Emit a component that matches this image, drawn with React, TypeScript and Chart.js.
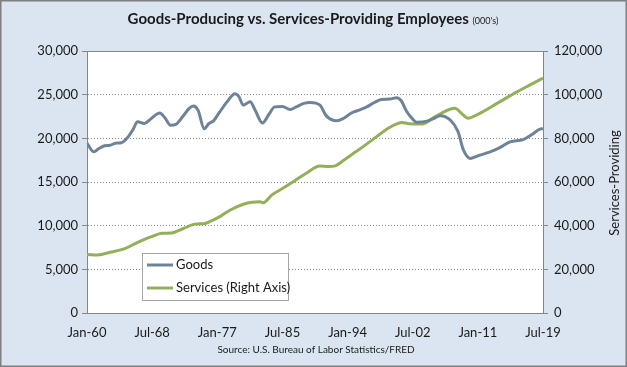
import React, { useEffect, useRef } from "react";
import { Chart, registerables } from "chart.js";

Chart.register(...registerables);

const goodsYears = [
  1960.0, 1960.9, 1961.5, 1962.3, 1963.0, 1963.7, 1964.5, 1965.3, 1966.0, 1966.6,
  1967.5, 1968.3, 1969.5, 1970.2, 1970.9, 1971.6, 1972.5, 1973.3, 1973.9, 1974.5,
  1975.3, 1975.9, 1976.5, 1977.3, 1978.3, 1979.3, 1979.8, 1980.4, 1981.3, 1981.9,
  1982.9, 1983.7, 1984.5, 1985.5, 1986.5, 1987.3, 1988.3, 1989.1, 1990.4, 1991.2,
  1992.6, 1993.5, 1994.5, 1995.4, 1996.5, 1997.5, 1998.4, 1999.5, 2000.4, 2001.0,
  2001.7, 2002.5, 2003.0, 2004.5, 2005.3, 2006.1, 2007.4, 2008.4, 2009.1, 2010.0,
  2011.0, 2012.6, 2013.8, 2015.2, 2016.9, 2018.0, 2019.1, 2019.5,
];
const goodsValues = [
  19450, 18450, 18800, 19150, 19200, 19450, 19500, 20100, 21000, 21900,
  21700, 22200, 22900, 22300, 21500, 21600, 22500, 23400, 23700, 23200,
  21100, 21700, 22000, 23000, 24200, 25100, 24800, 23800, 24200, 23300,
  21750, 22700, 23600, 23650, 23300, 23600, 24000, 24100, 23800, 22600,
  22000, 22300, 22900, 23200, 23600, 24100, 24450, 24500, 24650, 24300,
  23100, 22200, 21850, 22000, 22300, 22600, 22100, 20800, 18700, 17700,
  18000, 18450, 18900, 19600, 19850, 20400, 21050, 21100,
];

const servicesYears = [
  1960.0, 1961.4, 1963.0, 1965.0, 1966.7, 1968.4, 1969.8, 1971.0, 1972.5, 1974.1,
  1975.4, 1976.0, 1977.5, 1978.7, 1980.4, 1981.5, 1982.6, 1983.0, 1984.1, 1985.5,
  1986.9, 1988.5, 1990.4, 1991.5, 1992.4, 1993.5, 1995.0, 1996.3, 1997.8, 1999.3,
  2000.5, 2001.1, 2002.0, 2003.7, 2005.4, 2006.8, 2008.0, 2009.0, 2009.7, 2011.0,
  2013.5, 2016.1, 2018.0, 2019.5,
];
const servicesValues = [
  26800, 26600, 27800, 29600, 32500, 34950, 36500, 36600, 38600, 40700,
  41000, 41800, 44500, 47200, 49800, 50700, 50900, 50500, 54000, 57000,
  60100, 63800, 67300, 67100, 67400, 70000, 73700, 76900, 80800, 84600,
  86700, 87300, 86700, 86600, 89900, 92500, 93800, 91000, 89200, 91000,
  96000, 101300, 104800, 107600,
];

const xTickPositions = [1960, 1968.5, 1977, 1985.5, 1994, 2002.5, 2011, 2019.5];
const xTickLabels = ["Jan-60", "Jul-68", "Jan-77", "Jul-85", "Jan-94", "Jul-02", "Jan-11", "Jul-19"];

const seriesNames = ["Goods", "Services (Right Axis)"];
const titleMain = "Goods-Producing vs. Services-Providing Employees";
const titleSub = "(000's)";
const rightAxisTitle = "Services-Providing";
const sourceText = "Source: U.S. Bureau of Labor Statistics/FRED";

const FONT = "Lato, 'Open Sans', sans-serif";
const GOODS_COLOR = "#6f8398";
const SERVICES_COLOR = "#92b05a";
const TEXT_COLOR = "#1a1a1a";
const AXIS_COLOR = "#868686";

const W = 627;
const H = 367;
const PLOT = { left: 87, right: 543, top: 51, bottom: 313 };

export default function App() {
  const ref = useRef<HTMLCanvasElement | null>(null);

  useEffect(() => {
    if (!ref.current) return;

    const decor = {
      id: "decor",
      beforeDraw(chart: any) {
        const ctx = chart.ctx;
        const a = chart.chartArea;
        ctx.save();
        ctx.fillStyle = "#dbe5f1";
        ctx.fillRect(0, 0, W, H);
        ctx.strokeStyle = "#7f7f7f";
        ctx.lineWidth = 1.5;
        ctx.strokeRect(0.75, 0.75, W - 1.5, H - 1.5);
        ctx.fillStyle = "#ffffff";
        ctx.fillRect(a.left, a.top, a.right - a.left, a.bottom - a.top);
        ctx.restore();
      },
      afterDraw(chart: any) {
        const ctx = chart.ctx;
        const a = chart.chartArea;
        ctx.save();
        // plot top border
        ctx.strokeStyle = AXIS_COLOR;
        ctx.lineWidth = 1;
        ctx.beginPath();
        ctx.moveTo(a.left, a.top + 0.5);
        ctx.lineTo(a.right, a.top + 0.5);
        ctx.stroke();

        // title
        ctx.fillStyle = TEXT_COLOR;
        ctx.textBaseline = "alphabetic";
        ctx.font = `bold 15px ${FONT}`;
        const w1 = ctx.measureText(titleMain + " ").width;
        ctx.font = `9px ${FONT}`;
        const w2 = ctx.measureText(titleSub).width;
        const start = 313 - (w1 + w2) / 2;
        ctx.font = `bold 15px ${FONT}`;
        ctx.textAlign = "left";
        ctx.fillText(titleMain + " ", start, 24);
        ctx.font = `9px ${FONT}`;
        ctx.fillText(titleSub, start + w1, 24);

        // source
        ctx.font = `10px ${FONT}`;
        ctx.textAlign = "center";
        ctx.textBaseline = "middle";
        ctx.fillText(sourceText, 316, 350);

        // right axis title
        ctx.save();
        ctx.translate(615, 183);
        ctx.rotate(-Math.PI / 2);
        ctx.font = `13px ${FONT}`;
        ctx.textAlign = "center";
        ctx.textBaseline = "middle";
        ctx.fillText(rightAxisTitle, 0, 0);
        ctx.restore();

        // legend
        const lx = 142, ly = 253, lw = 146, lh = 47;
        ctx.fillStyle = "#ffffff";
        ctx.fillRect(lx, ly, lw, lh);
        ctx.strokeStyle = "#a6a6a6";
        ctx.lineWidth = 1;
        ctx.strokeRect(lx + 0.5, ly + 0.5, lw, lh);
        const colors = [GOODS_COLOR, SERVICES_COLOR];
        const ys = [265, 288];
        ctx.font = `13px ${FONT}`;
        ctx.textAlign = "left";
        ctx.textBaseline = "middle";
        for (let i = 0; i < 2; i++) {
          ctx.strokeStyle = colors[i];
          ctx.lineWidth = 3;
          ctx.beginPath();
          ctx.moveTo(147, ys[i]);
          ctx.lineTo(173, ys[i]);
          ctx.stroke();
          ctx.fillStyle = TEXT_COLOR;
          ctx.fillText(seriesNames[i], 176, ys[i]);
        }
        ctx.restore();
      },
    };

    const tickFont = { family: FONT, size: 13 };

    const chart = new Chart(ref.current, {
      type: "line",
      data: {
        datasets: [
          {
            label: seriesNames[0],
            data: goodsYears.map((x, i) => ({ x, y: goodsValues[i] })),
            borderColor: GOODS_COLOR,
            borderWidth: 3,
            pointRadius: 0,
            cubicInterpolationMode: "monotone",
            yAxisID: "y",
          },
          {
            label: seriesNames[1],
            data: servicesYears.map((x, i) => ({ x, y: servicesValues[i] })),
            borderColor: SERVICES_COLOR,
            borderWidth: 3,
            pointRadius: 0,
            cubicInterpolationMode: "monotone",
            yAxisID: "y2",
          },
        ],
      },
      options: {
        responsive: false,
        animation: false,
        events: [],
        layout: { padding: { top: PLOT.top, left: 0, right: 0, bottom: 0 } },
        plugins: { legend: { display: false }, title: { display: false }, tooltip: { enabled: false } },
        scales: {
          x: {
            type: "linear",
            min: xTickPositions[0],
            max: xTickPositions[xTickPositions.length - 1],
            afterBuildTicks: (s: any) => {
              s.ticks = xTickPositions.map((v) => ({ value: v }));
            },
            afterFit: (s: any) => {
              s.height = H - PLOT.bottom;
            },
            ticks: {
              autoSkip: false,
              maxRotation: 0,
              minRotation: 0,
              padding: 12,
              color: TEXT_COLOR,
              font: tickFont,
              callback: (_v: any, i: number) => xTickLabels[i],
            },
            grid: { display: false, drawTicks: false },
            border: { display: true, color: AXIS_COLOR, width: 1 },
          },
          y: {
            position: "left",
            min: 0,
            max: 30000,
            afterFit: (s: any) => {
              s.width = PLOT.left;
            },
            ticks: {
              stepSize: 5000,
              padding: 4,
              color: TEXT_COLOR,
              font: tickFont,
              callback: (v: any) => Number(v).toLocaleString("en-US"),
            },
            grid: { color: "#8c8c8c", tickColor: AXIS_COLOR, tickLength: 5, lineWidth: 1 },
            border: { display: true, color: AXIS_COLOR, width: 1, dash: [1, 2] },
          },
          y2: {
            position: "right",
            min: 0,
            max: 120000,
            afterFit: (s: any) => {
              s.width = W - PLOT.right;
            },
            ticks: {
              stepSize: 20000,
              padding: 6,
              color: TEXT_COLOR,
              font: tickFont,
              callback: (v: any) => Number(v).toLocaleString("en-US"),
            },
            grid: { drawOnChartArea: false, tickColor: AXIS_COLOR, tickLength: 5 },
            border: { display: true, color: AXIS_COLOR, width: 1 },
          },
        },
      },
      plugins: [decor],
    } as any);

    return () => chart.destroy();
  }, []);

  return (
    <div style={{ position: "fixed", left: 0, top: 0, width: W, height: H }}>
      <canvas ref={ref} width={W} height={H} style={{ display: "block", width: W, height: H }} />
    </div>
  );
}
